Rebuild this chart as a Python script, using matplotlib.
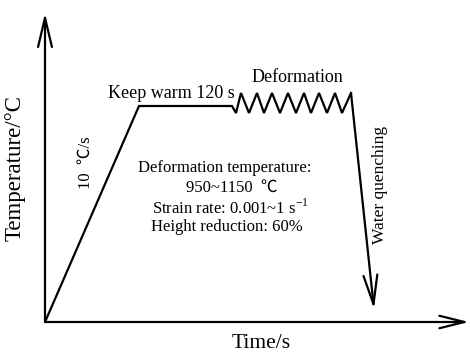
import matplotlib
matplotlib.use('Agg')
import matplotlib.pyplot as plt

plt.rcParams['font.family'] = ['Liberation Serif', 'Noto Sans CJK SC', 'DejaVu Serif']
plt.rcParams['mathtext.fontset'] = 'custom'
plt.rcParams['mathtext.rm'] = 'Liberation Serif'

# heating / holding profile (time, temperature) in arbitrary units
ramp_time = [0, 94, 187]
ramp_temp = [0, 216, 216]
# deformation zigzag: bottoms and peaks alternate
zig_time = [191, 196, 204, 212, 219, 227, 235, 243, 251, 259, 266, 274, 282, 290, 297, 306]
zig_temp = [209, 229, 209, 229, 209, 229, 209, 229, 209, 229, 209, 229, 209, 229, 209, 229]
quench_end = (329, 13)

x_max, y_max = 425, 322

fig = plt.figure(figsize=(4.7, 3.56), dpi=100)
ax = fig.add_axes([45 / 470, 34 / 356, 425 / 470, 322 / 356])
ax.set_xlim(0, x_max)
ax.set_ylim(0, y_max)
ax.axis('off')

lw = 1.6
t = ramp_time + zig_time
T = ramp_temp + zig_temp
ax.plot(t, T, color='black', lw=lw, solid_joinstyle='miter')

# quench arrow
ax.annotate('', xy=quench_end, xytext=(zig_time[-1], zig_temp[-1]),
            arrowprops=dict(arrowstyle='->,head_length=2.1,head_width=0.5',
                            lw=lw, color='black', shrinkA=0, shrinkB=0))

# axes arrows
ax.annotate('', xy=(0, 309), xytext=(0, 0),
            arrowprops=dict(arrowstyle='->,head_length=2.1,head_width=0.5',
                            lw=lw, color='black', shrinkA=0, shrinkB=0))
ax.annotate('', xy=(424, 0), xytext=(0, 0),
            arrowprops=dict(arrowstyle='->,head_length=1.8,head_width=0.45',
                            lw=lw, color='black', shrinkA=0, shrinkB=0))

fig.text(15 / 470, 1 - 168 / 356, 'Temperature/°C', rotation=90,
         ha='center', va='center', fontsize=16.5)
fig.text(261 / 470, 1 - 343 / 356, 'Time/s', ha='center', va='center', fontsize=15.5)

def ftext(x, y, s, **kw):
    fig.text(x / 470, 1 - y / 356, s, ha='center', va='center', **kw)

ftext(171, 93, 'Keep warm 120 s', fontsize=13)
ftext(297, 78, 'Deformation', fontsize=13)
ftext(86, 163, '10  ℃/s', rotation=90, fontsize=12)
ftext(380, 185, 'Water quenching', rotation=90, fontsize=12.5)
ftext(225, 168, 'Deformation temperature:', fontsize=12)
ftext(232, 188, '950~1150  ℃', fontsize=12)
ftext(230, 208, 'Strain rate: 0.001~1 s$^{-1}$', fontsize=12)
ftext(227, 227, 'Height reduction: 60%', fontsize=12)

fig.savefig('out.png', dpi=100)
